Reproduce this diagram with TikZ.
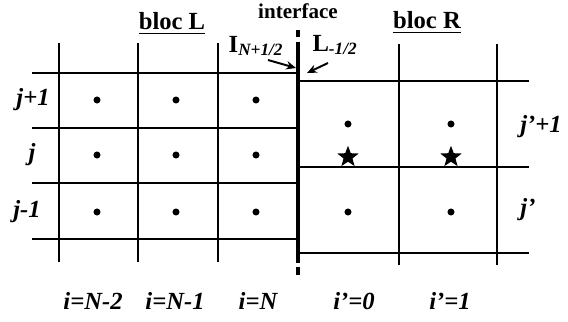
\documentclass[tikz,border=0pt]{standalone}
\usepackage{amsmath}
\usepackage{fontspec}
\setmainfont{Liberation Serif}
\usetikzlibrary{shapes.geometric,arrows.meta}
\begin{document}
\begin{tikzpicture}[x=0.025cm,y=-0.025cm,
  gridline/.style={line width=1.4pt},
  lab/.style={inner sep=0pt,font=\fontsize{17.5}{20}\selectfont\bfseries\itshape},
  dot/.style={circle,fill,inner sep=0pt,minimum size=5pt},
  etoile/.style={star,star points=5,star point ratio=2.4,fill,inner sep=0pt,minimum size=16pt}]
\useasboundingbox (0,0) rectangle (568,322);
%bloc L
\draw[gridline](59,43)--(59,262);
\draw[gridline](138,43)--(138,262);
\draw[gridline](218,43)--(218,262);
\draw[gridline](32,73)--(298,73);
\draw[gridline](32,128)--(298,128);
\draw[gridline](32,183)--(298,183);
\draw[gridline](32,239)--(298,239);
%bloc R
\draw[gridline](399,44)--(399,265);
\draw[gridline](497,44)--(497,265);
\draw[gridline](298,81)--(529,81);
\draw[gridline](298,167)--(529,167);
\draw[gridline](298,253)--(529,253);
%interface
\draw[line width=3pt](298,30)--(298,36.5);
\draw[line width=3pt](298,42)--(298,263);
\draw[line width=3pt](298,266.5)--(298,275);
%centres des mailles
\node[dot](l11) at (97,100){};
\node[dot](l21) at (176,100){};
\node[dot](l31) at (256,100){};
\node[dot](l12) at (97,155){};
\node[dot](l22) at (176,155){};
\node[dot](l32) at (256,155){};
\node[dot](l13) at (97,212){};
\node[dot](l23) at (176,212){};
\node[dot](l33) at (256,212){};
\node[dot](r11) at (348,124){};
\node[dot](r21) at (451,124){};
\node[dot](r12) at (348,212){};
\node[dot](r22) at (451,212){};
\node[etoile](s1) at (348,157){};
\node[etoile](s2) at (451,157){};
%titres
\node[inner sep=0pt,font=\fontsize{15}{17}\selectfont\bfseries](interf) at (298,11){interface};
\node[inner sep=0pt,font=\fontsize{17.5}{20}\selectfont\bfseries](blocL) at (172,24){\underline{bloc L}};
\node[inner sep=0pt,font=\fontsize{17.5}{20}\selectfont\bfseries](blocR) at (427,23){\underline{bloc R}};
\node[inner sep=0pt,font=\fontsize{17.5}{20}\selectfont](IN) at (256,46){\textbf{I}$_{\text{\bfseries\itshape N+1/2}}$};
\node[inner sep=0pt,font=\fontsize{17.5}{20}\selectfont](Lm) at (335,45){\textbf{L}$_{\text{\bfseries\itshape -1/2}}$};
\coordinate (INa) at (268,60);
\coordinate (INb) at (296,68);
\coordinate (Lma) at (328,63);
\coordinate (Lmb) at (307,73);
\draw[-{Stealth[length=7pt,width=6pt]},line width=1.4pt](INa)--(INb);
\draw[-{Stealth[length=7pt,width=6pt]},line width=1.4pt](Lma)--(Lmb);
%indices j
\node[lab](jp1) at (33,100){j+1};
\node[lab](j) at (32,155){j};
\node[lab](jm1) at (27,212){j-1};
\node[lab](jpp1) at (541,127){j'+1};
\node[lab](jp) at (528,210){j'};
%indices i
\node[lab](iN2) at (93,301){i=N-2};
\node[lab](iN1) at (175,301){i=N-1};
\node[lab](iN) at (258,301){i=N};
\node[lab](ip0) at (354,301){i'=0};
\node[lab](ip1) at (450,301){i'=1};
\end{tikzpicture}
\end{document}
